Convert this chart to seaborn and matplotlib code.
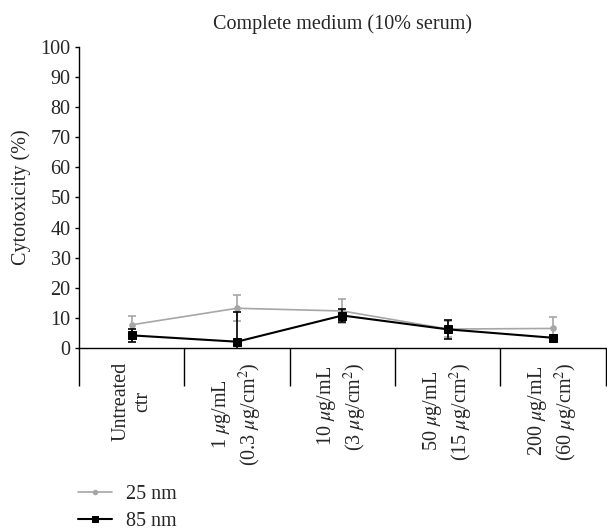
import numpy as np
import matplotlib
matplotlib.use("Agg")
import matplotlib.pyplot as plt
import seaborn as sns

# data
categories = ["Untreated\nctr",
              "1 $\\mu$g/mL\n(0.3 $\\mu$g/cm$^2$)",
              "10 $\\mu$g/mL\n(3 $\\mu$g/cm$^2$)",
              "50 $\\mu$g/mL\n(15 $\\mu$g/cm$^2$)",
              "200 $\\mu$g/mL\n(60 $\\mu$g/cm$^2$)"]
nm25 = [7.7, 13.2, 12.3, 6.3, 6.5]
nm25_err = [3.0, 4.3, 4.0, 2.8, 3.7]
nm85 = [4.2, 2.1, 10.8, 6.2, 3.4]
nm85_err = [2.1, 10.0, 2.1, 3.1, 0.5]
yticks = list(range(0, 101, 10))

sns.set_style("white")
plt.rcParams["font.family"] = ["Liberation Serif", "DejaVu Serif"]
plt.rcParams["mathtext.fontset"] = "stix"
fs = 14.5

fig = plt.figure(figsize=(6.07, 5.31), dpi=100)
ax = fig.add_axes([0.130, 0.3446, 0.868, 0.567])

x = np.arange(len(categories)) + 0.5
gray = "#a6a6a6"

ax.errorbar(x, nm25, yerr=nm25_err, fmt="none", ecolor=gray, elinewidth=1.2, capsize=3, capthick=1.2)
sns.lineplot(x=x, y=nm25, ax=ax, color=gray, marker="o", markersize=4, linewidth=1.2,
             markeredgecolor=gray, label="25 nm")
ax.errorbar(x, nm85, yerr=nm85_err, fmt="none", ecolor="black", elinewidth=1.2, capsize=3, capthick=1.2)
sns.lineplot(x=x, y=nm85, ax=ax, color="black", marker="s", markersize=6, linewidth=1.5,
             markeredgecolor="black", label="85 nm")

ax.set_xlim(0, len(categories))
ax.set_ylim(0, 100)
ax.set_yticks(yticks)
ax.set_xticks(np.arange(len(categories) + 1))
ax.set_xticklabels([])
ax.set_xticks(x, minor=True)
ax.set_xticklabels(categories, minor=True, rotation=90, fontsize=fs, va="top", ha="center")
ax.tick_params(axis="x", which="major", direction="out", length=27, width=1.0, color="black", bottom=True)
ax.tick_params(axis="x", which="minor", length=0, pad=10)
ax.tick_params(axis="y", direction="out", length=3, width=1.0, color="black", left=True, labelsize=fs, pad=3)

for s in ["top", "right"]:
    ax.spines[s].set_visible(False)
for s in ["left", "bottom"]:
    ax.spines[s].set_color("black")
    ax.spines[s].set_linewidth(1.0)

ax.set_ylabel("Cytotoxicity (%)", fontsize=fs, labelpad=7)
ax.set_title("Complete medium (10% serum)", fontsize=fs, pad=13)
ax.set_xlabel("")

handles, labels = ax.get_legend_handles_labels()
ax.get_legend().remove()
fig.legend(handles, labels, loc="lower left", bbox_to_anchor=(78 / 607, 0.0), frameon=False,
           fontsize=fs, handlelength=1.7, labelspacing=0.4, handletextpad=0.7,
           borderpad=0, borderaxespad=0, markerscale=0.8)

fig.savefig("out.png", dpi=100)
